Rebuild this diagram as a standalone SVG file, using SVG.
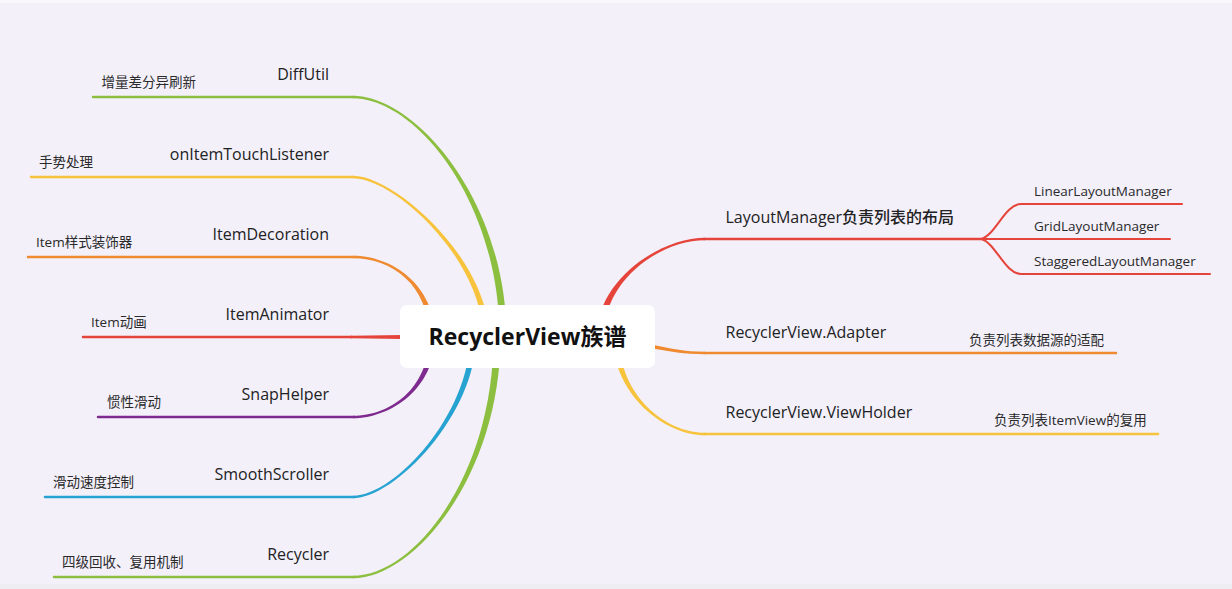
<svg xmlns="http://www.w3.org/2000/svg" width="1232" height="589" viewBox="0 0 1232 589">
<style>
.lbl{font-family:"Open Sans","Noto Sans CJK SC",sans-serif;font-size:16px;font-weight:500;fill:#222}
.sub{font-family:"Open Sans","Noto Sans CJK SC",sans-serif;font-size:13.5px;fill:#2a2a2a}
.rlbl{font-family:"Open Sans","Noto Sans CJK SC",sans-serif;font-size:16px;fill:#222}
.rsub{font-family:"Open Sans","Noto Sans CJK SC",sans-serif;font-size:13.5px;fill:#2a2a2a}
.ln{fill:none;stroke-width:2.5;stroke-linecap:round}
.thin{fill:none;stroke-width:2;stroke-linecap:round}
.green{stroke:#8cbf3f}.yellow{stroke:#f8c33c}.orange{stroke:#ef8a30}.red{stroke:#e5443a}.purple{stroke:#7e2a8e}.blue{stroke:#27a3d1}
.fgreen{fill:#8cbf3f}.fyellow{fill:#f8c33c}.forange{fill:#ef8a30}.fred{fill:#e5443a}.fpurple{fill:#7e2a8e}.fblue{fill:#27a3d1}
</style>
<rect x="0" y="0" width="1232" height="589" fill="#f3f0fa"/>
<rect x="0" y="0" width="1232" height="3" fill="#f8f7fb"/>
<rect x="0" y="584" width="1232" height="5" fill="#eeedf1"/>
<g id="connectors">
<line class="ln green" x1="93" y1="97" x2="354" y2="97"/>
<line class="ln yellow" x1="31" y1="177" x2="354" y2="177"/>
<line class="ln orange" x1="28" y1="257" x2="354" y2="257"/>
<line class="ln red" x1="83" y1="337" x2="352" y2="337"/>
<line class="ln purple" x1="98" y1="417" x2="354" y2="417"/>
<line class="ln blue" x1="45" y1="497" x2="354" y2="497"/>
<line class="ln green" x1="54" y1="577" x2="354" y2="577"/>
<path class="fgreen" d="M353,95.75 C415,95.75 506.5,200 506.5,337 L499.5,337 C499.5,200 415,98.25 353,98.25Z"/>
<path class="fyellow" d="M353,175.75 C395,175.75 489,260 489,337 L483,337 C483,260 395,178.25 353,178.25Z"/>
<path class="forange" d="M353,255.75 C392,255.75 435,285 435,337 L429,337 C429,285 392,258.25 353,258.25Z"/>
<path class="fred" d="M350,335.75 L420,334.75 L420,339.25 L350,338.25Z"/>
<path class="fpurple" d="M353,415.75 C390,415.75 429,389 429,337 L435,337 C435,389 390,418.25 353,418.25Z"/>
<path class="fblue" d="M353,495.75 C395,495.75 470,414 470,337 L476,337 C476,414 395,498.25 353,498.25Z"/>
<path class="fgreen" d="M353,575.75 C415,575.75 493.5,474 493.5,337 L500.5,337 C500.5,474 415,578.25 353,578.25Z"/>
<path class="fred" d="M705,237.75 C660,237.75 596.5,280 596.5,337 L603.5,337 C603.5,280 660,240.25 705,240.25Z"/>
<path class="forange" d="M705,351.75 C665,351.75 640,337.5 600,337.5 L600,342.5 C640,342.5 665,354.25 705,354.25Z"/>
<path class="fyellow" d="M705,432.75 C665,432.75 619,395 619,337 L613,337 C613,395 665,435.25 705,435.25Z"/>
<line class="ln red" x1="704" y1="239" x2="981" y2="239"/>
<line class="ln orange" x1="704" y1="353" x2="1116" y2="353"/>
<line class="ln yellow" x1="704" y1="434" x2="1158" y2="434"/>
<path class="thin red" d="M981,239 C995,236 1005,204 1021,204 L1182,204"/>
<path class="thin red" d="M981,239 L1170,239"/>
<path class="thin red" d="M981,239 C995,242 1005,274 1021,274 L1210,274"/>
</g>
<g id="center">
<rect x="400" y="305" width="255" height="63" rx="7" fill="#ffffff"/>
<text x="527.5" y="345" text-anchor="middle" font-family="'Open Sans','Noto Sans CJK SC',sans-serif" font-size="23" font-weight="700" fill="#111">RecyclerView族谱</text>
</g>
<g id="node-diffutil"><text class="lbl" x="329" y="80" text-anchor="end">DiffUtil</text></g>
<g id="node-diffutil-desc"><text class="sub" x="101.5" y="87">增量差分异刷新</text></g>
<g id="node-touch"><text class="lbl" x="329" y="160" text-anchor="end">onItemTouchListener</text></g>
<g id="node-touch-desc"><text class="sub" x="39" y="167">手势处理</text></g>
<g id="node-decoration"><text class="lbl" x="329" y="240" text-anchor="end">ItemDecoration</text></g>
<g id="node-decoration-desc"><text class="sub" x="36" y="247">Item样式装饰器</text></g>
<g id="node-animator"><text class="lbl" x="329" y="320" text-anchor="end">ItemAnimator</text></g>
<g id="node-animator-desc"><text class="sub" x="91" y="327">Item动画</text></g>
<g id="node-snap"><text class="lbl" x="329" y="400" text-anchor="end">SnapHelper</text></g>
<g id="node-snap-desc"><text class="sub" x="107" y="407">惯性滑动</text></g>
<g id="node-smooth"><text class="lbl" x="329" y="480" text-anchor="end">SmoothScroller</text></g>
<g id="node-smooth-desc"><text class="sub" x="53" y="487">滑动速度控制</text></g>
<g id="node-recycler"><text class="lbl" x="329" y="560" text-anchor="end">Recycler</text></g>
<g id="node-recycler-desc"><text class="sub" x="62" y="567">四级回收、复用机制</text></g>
<g id="node-layoutmanager"><text class="rlbl" x="725.5" y="223" font-weight="500">LayoutManager负责列表的布局</text></g>
<g id="node-linear"><text class="rsub" x="1034" y="196">LinearLayoutManager</text></g>
<g id="node-grid"><text class="rsub" x="1034" y="231">GridLayoutManager</text></g>
<g id="node-staggered"><text class="rsub" x="1034" y="266">StaggeredLayoutManager</text></g>
<g id="node-adapter"><text class="rlbl" x="725.5" y="338">RecyclerView.Adapter</text></g>
<g id="node-adapter-desc"><text class="rsub" x="969" y="345">负责列表数据源的适配</text></g>
<g id="node-viewholder"><text class="rlbl" x="725.5" y="418">RecyclerView.ViewHolder</text></g>
<g id="node-viewholder-desc"><text class="rsub" x="994" y="425">负责列表ItemView的复用</text></g>
</svg>
